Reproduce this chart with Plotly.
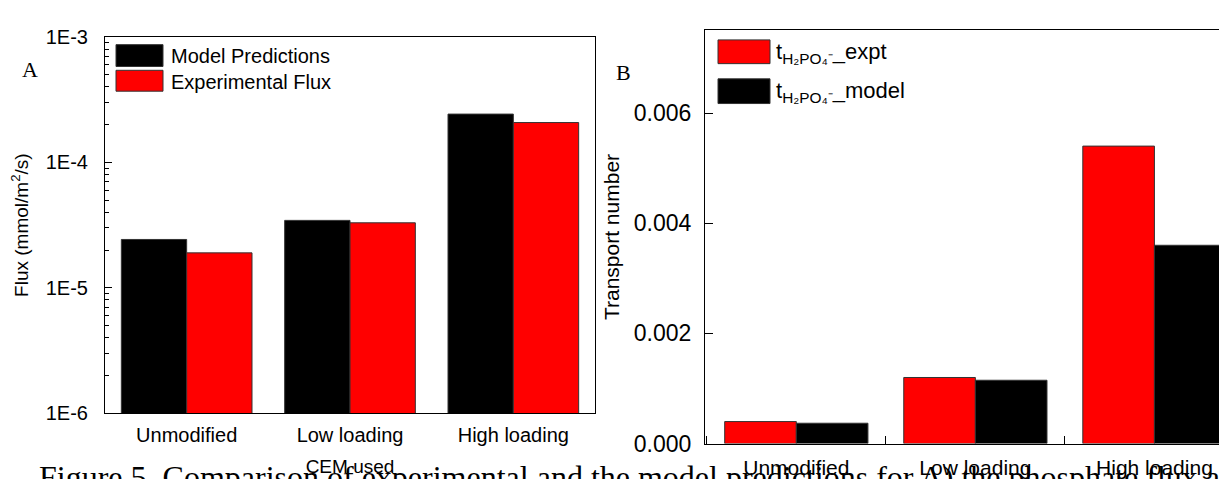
import plotly.graph_objects as go

categories = ["Unmodified", "Low loading", "High loading"]

# Panel A: flux (mmol/m2/s), log scale
flux_model = [2.43e-5, 3.45e-5, 2.43e-4]
flux_expt = [1.9e-5, 3.3e-5, 2.08e-4]
flux_tickvals = [1e-6, 1e-5, 1e-4, 1e-3]
flux_ticktext = ["1E-6", "1E-5", "1E-4", "1E-3"]

# Panel B: transport number
tn_expt = [0.0004, 0.0012, 0.0054]
tn_model = [0.00037, 0.00115, 0.0036]
tn_tickvals = [0.000, 0.002, 0.004, 0.006]
tn_ticktext = ["0.000", "0.002", "0.004", "0.006"]

W, H = 1227, 479
SANS = "Liberation Sans, Arial, sans-serif"
SERIF = "Liberation Serif, Times New Roman, serif"

def px(x):
    return x / W

def py(y):
    return 1 - y / H

fig = go.Figure()
line = dict(color="#333333", width=1)
fig.add_trace(go.Bar(x=categories, y=flux_model, name="Model Predictions",
                     marker=dict(color="#000000", line=line), xaxis="x", yaxis="y"))
fig.add_trace(go.Bar(x=categories, y=flux_expt, name="Experimental Flux",
                     marker=dict(color="#FF0000", line=line), xaxis="x", yaxis="y"))
fig.add_trace(go.Bar(x=categories, y=tn_expt, name="t_H2PO4_expt",
                     marker=dict(color="#FF0000", line=line), xaxis="x2", yaxis="y2"))
fig.add_trace(go.Bar(x=categories, y=tn_model, name="t_H2PO4_model",
                     marker=dict(color="#000000", line=line), xaxis="x2", yaxis="y2"))

minor_vals = [k * 10 ** e for e in (-6, -5, -4) for k in range(2, 10)]

fig.update_layout(
    width=W, height=H,
    margin=dict(l=0, r=0, t=0, b=0),
    paper_bgcolor="white", plot_bgcolor="white",
    showlegend=False,
    barmode="group", bargap=0.2, bargroupgap=0,
    font=dict(family=SANS, color="black"),
    xaxis=dict(domain=[px(97), px(587)], anchor="y", type="category",
               range=[-0.5, 2.5], showline=True, linecolor="black", linewidth=1,
               mirror=True, ticks="", showgrid=False, ticklabelstandoff=4,
               tickfont=dict(size=20, family=SANS),
               title=dict(text="CEM used", font=dict(size=19, family=SANS), standoff=14)),
    yaxis=dict(domain=[py(415), py(19)], anchor="x", type="log", range=[-6, -3],
               tickvals=flux_tickvals, ticktext=flux_ticktext,
               ticks="inside", ticklen=7, tickcolor="black", ticklabelstandoff=12,
               minor=dict(tickvals=minor_vals, ticks="inside", ticklen=4, tickcolor="black", showgrid=False),
               showline=True, linecolor="black", linewidth=1, mirror=True, showgrid=False,
               tickfont=dict(size=20, family=SANS),
               title=dict(text="Flux (mmol/m<sup>2</sup>/s)", font=dict(size=19, family=SANS), standoff=12)),
    xaxis2=dict(domain=[px(697), 1.0], anchor="y2", type="category",
                range=[-0.51, 2.45], showline=True, linecolor="black", linewidth=1,
                mirror=True, ticks="inside", tickson="boundaries", ticklen=8, tickcolor="black",
                showgrid=False, ticklabelstandoff=5, tickfont=dict(size=21, family=SANS)),
    yaxis2=dict(domain=[py(447), py(12)], anchor="x2", range=[0, 0.0075],
                tickvals=tn_tickvals, ticktext=tn_ticktext,
                ticks="inside", ticklen=8, tickcolor="black", ticklabelstandoff=8,
                showline=True, linecolor="black", linewidth=1, mirror=False, showgrid=False,
                zeroline=False, tickfont=dict(size=23, family=SANS),
                title=dict(text="Transport number", font=dict(size=21, family=SANS), standoff=8)),
)

# Custom legends (large swatches)
shapes = []
def swatch(x0, y0, x1, y1, color):
    shapes.append(dict(type="rect", xref="paper", yref="paper",
                       x0=px(x0), x1=px(x1), y0=py(y1), y1=py(y0),
                       fillcolor=color, line=dict(color="#333333", width=1)))

swatch(108, 27, 155, 50, "#000000")
swatch(108, 54, 155, 76, "#FF0000")
swatch(710, 22, 762, 47, "#FF0000")
swatch(710, 63, 762, 89, "#000000")
fig.update_layout(shapes=shapes)

annotations = [
    dict(text="Figure 5. Comparison of experimental and the model predictions for A) the phosphate flux and B)",
         x=px(29), y=py(461), xanchor="left", yanchor="top",
         font=dict(size=32, family=SERIF)),
    dict(text="Model Predictions", x=px(161), y=py(39), xanchor="left", yanchor="middle",
         font=dict(size=20, family=SANS)),
    dict(text="Experimental Flux", x=px(161), y=py(66), xanchor="left", yanchor="middle",
         font=dict(size=20, family=SANS)),
    dict(text="t<sub>H₂PO₄⁻</sub>_expt", x=px(766), y=py(36), xanchor="left", yanchor="middle",
         font=dict(size=22, family=SANS)),
    dict(text="t<sub>H₂PO₄⁻</sub>_model", x=px(766), y=py(77), xanchor="left", yanchor="middle",
         font=dict(size=22, family=SANS)),
    dict(text="A", x=px(22), y=py(53), xanchor="center", yanchor="middle",
         font=dict(size=22, family=SERIF)),
    dict(text="B", x=px(615), y=py(56), xanchor="center", yanchor="middle",
         font=dict(size=22, family=SERIF)),
]
for a in annotations:
    a.update(xref="paper", yref="paper", showarrow=False)
fig.update_layout(annotations=annotations)

fig.write_html("out.html")
